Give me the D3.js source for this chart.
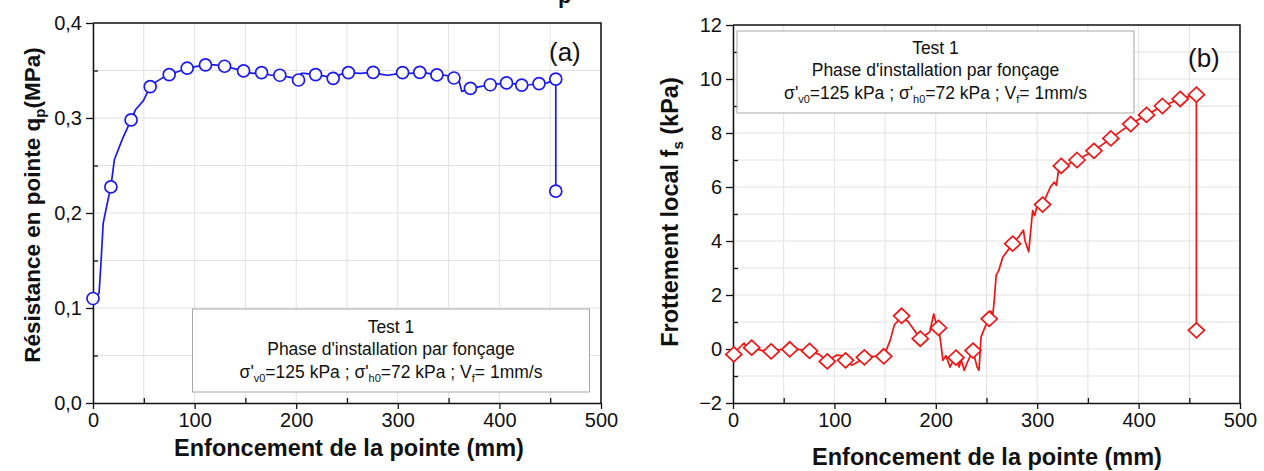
<!DOCTYPE html>
<html><head><meta charset="utf-8">
<script src="https://cdn.jsdelivr.net/npm/d3@7"></script>
<style>
body{margin:0;background:#fff;}
svg{display:block;font-family:"Liberation Sans",Arial,sans-serif;}
</style></head>
<body><svg id="c" width="1264" height="471"></svg>
<script>
// ---------- data ----------
const xTicks = [0,100,200,300,400,500];
const qpTicks = [0,0.1,0.2,0.3,0.4];
const fsTicks = [-2,0,2,4,6,8,10,12];

// panel (a): tip resistance qp (MPa) vs penetration (mm)
const qpLine = [[0,0.11],[3,0.111],[6,0.116],[8,0.15],[10,0.189],[14,0.21],[17.6,0.2275],[21,0.256],[29,0.278],[37.5,0.298],[42,0.309],[49.5,0.318],[56.3,0.333],[62,0.338],[68,0.342],[75,0.3457],[84,0.349],[92.7,0.3524],[101,0.354],[110.7,0.3559],[120,0.356],[129.5,0.3545],[139,0.352],[148.2,0.3496],[157,0.347],[165.9,0.3478],[175,0.345],[183.9,0.345],[193,0.343],[198,0.342],[202.3,0.340],[205,0.347],[208,0.347],[219.1,0.3457],[228,0.344],[236.4,0.3418],[244,0.346],[251.4,0.3478],[263,0.347],[275.8,0.3481],[284,0.346],[290,0.345],[296,0.346],[304.7,0.3478],[313,0.347],[321.6,0.3481],[330,0.347],[338.5,0.3453],[347,0.345],[355.3,0.3421],[360,0.340],[363,0.328],[371.5,0.3312],[381,0.333],[391,0.335],[399,0.336],[407,0.3369],[415,0.336],[422,0.3347],[430,0.335],[439,0.3362],[447,0.337],[455.5,0.341],[455.5,0.223]];
const qpMarks = [[0,0.11],[17.6,0.2275],[37.5,0.298],[56.3,0.333],[75,0.3457],[92.7,0.3524],[110.7,0.3559],[129.5,0.3545],[148.2,0.3496],[165.9,0.3478],[183.9,0.345],[202.3,0.340],[219.1,0.3457],[236.4,0.3418],[251.4,0.3478],[275.8,0.3481],[304.7,0.3478],[321.6,0.3481],[338.5,0.3453],[355.3,0.3421],[371.5,0.3312],[391,0.335],[407,0.3369],[422,0.3347],[439,0.3362],[455.5,0.341],[455.5,0.223]];

// panel (b): local friction fs (kPa) vs penetration (mm)
const fsLine = [[0,-0.3],[0.8,-0.2],[5,0],[11,0.22],[14,0.05],[18.4,0.05],[28,-0.05],[37.6,-0.09],[47,-0.02],[56,-0.01],[66,-0.02],[75.5,-0.07],[85,-0.2],[93,-0.46],[102,-0.23],[108,-0.25],[111,-0.42],[117,-0.6],[123,-0.48],[129.5,-0.31],[139,-0.27],[148.7,-0.27],[155,0.32],[159,0.88],[166.3,1.23],[173,1.0],[184.7,0.38],[194,0.63],[198,1.3],[200,1.0],[202.7,0.78],[205,0.2],[207,-0.42],[210,-0.25],[212,-0.45],[214,-0.67],[217,-0.45],[219.9,-0.32],[223,-0.67],[225,-0.4],[228,-0.79],[231,-0.5],[236.7,-0.06],[240.7,-0.67],[242.6,-0.79],[244.6,0.44],[248.5,0.81],[252.7,1.12],[254.4,1.4],[256,1.2],[257.5,1.74],[259.5,2.73],[262,2.9],[266,3.4],[270,3.6],[275.8,3.9],[281.7,4.15],[286.4,4.4],[288,4.0],[291.6,3.6],[295.5,5.13],[297.5,4.94],[299.5,5.25],[305.3,5.35],[313,6.0],[317,6.18],[319,6.06],[321,6.62],[323.7,6.78],[331,6.85],[339.3,7.0],[356,7.34],[372.6,7.8],[392.2,8.33],[407.8,8.67],[423.5,9.0],[441,9.26],[457,9.42],[457,0.69]];
const fsMarks = [[0.8,-0.2],[18.4,0.05],[37.6,-0.09],[56,-0.01],[75.5,-0.07],[93,-0.46],[111,-0.42],[129.5,-0.31],[148.7,-0.27],[166.3,1.23],[184.7,0.38],[202.7,0.78],[219.9,-0.32],[236.7,-0.06],[252.7,1.12],[275.8,3.9],[305.3,5.35],[323.7,6.78],[339.3,7.0],[356,7.34],[372.6,7.8],[392.2,8.33],[407.8,8.67],[423.5,9.0],[441,9.26],[457,9.42],[457,0.69]];

const xTitle = "Enfoncement de la pointe (mm)";

// ---------- drawing ----------
const svg = d3.select("#c");
const fmtComma = d => d3.format(".1f")(d).replace(".", ",");

function panel(opt){
  const g = svg.append("g");
  const x = d3.scaleLinear().domain([0,500]).range(opt.xr);
  const y = d3.scaleLinear().domain(opt.yd).range(opt.yr);
  // gridlines
  const gx = d3.range(0,501,50);
  g.append("g").selectAll("line").data(gx).join("line")
    .attr("x1",d=>x(d)).attr("x2",d=>x(d)).attr("y1",opt.yr[0]).attr("y2",opt.yr[1])
    .attr("stroke","#e2e2e2").attr("stroke-width",1);
  g.append("g").selectAll("line").data(opt.gridY).join("line")
    .attr("y1",d=>y(d)).attr("y2",d=>y(d)).attr("x1",opt.xr[0]).attr("x2",opt.xr[1])
    .attr("stroke","#e2e2e2").attr("stroke-width",1);
  // frame top/right
  g.append("path").attr("d",`M${opt.xr[0]},${opt.yr[1]}H${opt.xr[1]}V${opt.yr[0]}`)
    .attr("fill","none").attr("stroke","#111").attr("stroke-width",1.5);
  // minor ticks (inward)
  const minorX = d3.range(50,500,100);
  g.append("g").attr("transform",`translate(0,${opt.yr[0]})`)
    .call(d3.axisBottom(x).tickValues(minorX).tickSize(-5).tickFormat(""))
    .call(s=>s.select(".domain").remove())
    .selectAll("line").attr("stroke","#111").attr("stroke-width",1.3);
  g.append("g").attr("transform",`translate(${opt.xr[0]},0)`)
    .call(d3.axisLeft(y).tickValues(opt.minorY).tickSize(-5).tickFormat(""))
    .call(s=>s.select(".domain").remove())
    .selectAll("line").attr("stroke","#111").attr("stroke-width",1.3);
  // major axes
  const ax = g.append("g").attr("transform",`translate(0,${opt.yr[0]})`)
    .call(d3.axisBottom(x).tickValues(xTicks).tickSize(6).tickPadding(4).tickSizeOuter(0));
  const ay = g.append("g").attr("transform",`translate(${opt.xr[0]},0)`)
    .call(d3.axisLeft(y).tickValues(opt.yTicks).tickSize(7).tickPadding(4).tickSizeOuter(0).tickFormat(opt.yfmt));
  [ax,ay].forEach(a=>{
    a.select(".domain").attr("stroke","#111").attr("stroke-width",1.5);
    a.selectAll(".tick line").attr("stroke","#111").attr("stroke-width",1.3);
    a.selectAll(".tick text").attr("fill","#111").style("font-size","20px")
      .style("font-family","'Liberation Sans',Arial,sans-serif");
  });
  // data line
  g.append("path").datum(opt.line)
    .attr("d",d3.line().x(d=>x(d[0])).y(d=>y(d[1])))
    .attr("fill","none").attr("stroke",opt.color).attr("stroke-width",1.7).attr("stroke-linejoin","round");
  // markers
  if(opt.shape==="circle"){
    g.append("g").selectAll("circle").data(opt.marks).join("circle")
      .attr("cx",d=>x(d[0])).attr("cy",d=>y(d[1])).attr("r",6)
      .attr("fill","#fff").attr("stroke",opt.color).attr("stroke-width",1.7);
  } else {
    g.append("g").selectAll("path").data(opt.marks).join("path")
      .attr("transform",d=>`translate(${x(d[0])},${y(d[1])})`)
      .attr("d","M0,-7.5L8,0L0,7.5L-8,0Z")
      .attr("fill","#fff").attr("stroke",opt.color).attr("stroke-width",1.7);
  }
  // legend box
  const b = opt.box;
  g.append("rect").attr("x",b.x).attr("y",b.y).attr("width",b.w).attr("height",b.h)
    .attr("fill","#fff").attr("stroke","#a8a8a8").attr("stroke-width",1);
  const cx = b.x + b.w/2;
  const tstyle = s => s.attr("text-anchor","middle").attr("fill","#111").style("font-size","17.5px");
  g.append("text").attr("x",cx).attr("y",b.y+b.l1).text("Test 1").call(tstyle);
  g.append("text").attr("x",cx).attr("y",b.y+b.l1+22).text("Phase d'installation par fonçage").call(tstyle);
  const t3 = g.append("text").attr("x",cx).attr("y",b.y+b.l1+45).call(tstyle);
  const parts = [["σ'",0],["v0",1],["=125 kPa ; σ'",0],["h0",1],["=72 kPa ; V",0],["f",1],["= 1mm/s",0]];
  let sub=false;
  parts.forEach(p=>{
    const ts = t3.append("tspan").text(p[0]);
    if(p[1]){ ts.attr("dy",4).style("font-size","11px"); sub=true; }
    else if(sub){ ts.attr("dy",-4); sub=false; }
  });
  // panel label
  g.append("text").attr("x",opt.lab.x).attr("y",opt.lab.y).text(opt.lab.t)
    .attr("fill","#111").style("font-size","26px");
  // x title
  g.append("text").attr("x",opt.xtx).attr("y",opt.xty).attr("text-anchor","middle")
    .attr("fill","#111").style("font-size","23.5px").style("font-weight","bold").text(xTitle);
  // y title
  const yt = g.append("text").attr("transform",`translate(${opt.yt.x},${opt.yt.y}) rotate(-90)`)
    .attr("text-anchor","middle").attr("fill","#111").style("font-size",opt.yt.fs).style("font-weight","bold");
  opt.yt.parts.forEach(p=>{
    const ts = yt.append("tspan").text(p[0]);
    if(p[1]===1) ts.attr("dy",5).style("font-size","15px");
    if(p[1]===2) ts.attr("dy",-5);
  });
}

panel({
  xr:[93,601], yd:[0,0.4], yr:[403,23], yTicks:qpTicks,
  minorY:[0.05,0.15,0.25,0.35], gridY:[0.05,0.1,0.15,0.2,0.25,0.3,0.35],
  yfmt:fmtComma, line:qpLine, marks:qpMarks, color:"#1a1aee", shape:"circle",
  box:{x:192.5,y:309,w:397,h:83,l1:24},
  lab:{x:549,y:61,t:"(a)"}, xtx:349, xty:456,
  yt:{x:40,y:205,fs:"22.5px",parts:[["Résistance en pointe q",0],["p",1],["(MPa)",2]]}
});
panel({
  xr:[733,1240], yd:[-2,12], yr:[403,25], yTicks:fsTicks,
  minorY:[-1,1,3,5,7,9,11], gridY:d3.range(-1,12,1),
  yfmt:d3.format("d"), line:fsLine, marks:fsMarks, color:"#f01414", shape:"diamond",
  box:{x:737,y:31,w:397,h:82,l1:23},
  lab:{x:1188,y:67,t:"(b)"}, xtx:987, xty:465,
  yt:{x:678,y:212,fs:"23.5px",parts:[["Frottement local f",0],["s",1],[" (kPa)",2]]}
});

// cropped title fragment at top
svg.append("text").attr("x",558).attr("y",3).attr("fill","#111")
  .style("font-size","22px").style("font-weight","bold").text("p");
</script></body></html>
